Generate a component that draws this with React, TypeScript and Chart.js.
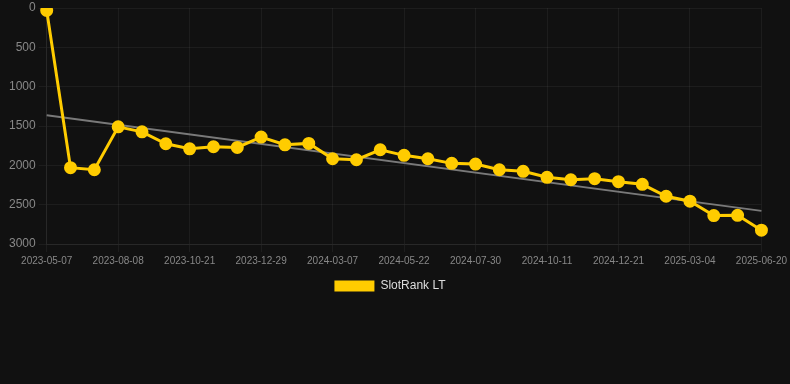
import React, { useEffect, useRef } from "react";
import { Chart, registerables } from "chart.js";

Chart.register(...registerables);

const dates = [
  "2023-05-07", "2023-06-07", "2023-07-08", "2023-08-08", "2023-09-01", "2023-09-26",
  "2023-10-21", "2023-11-13", "2023-12-06", "2023-12-29", "2024-01-21", "2024-02-13",
  "2024-03-07", "2024-04-01", "2024-04-26", "2024-05-22", "2024-06-14", "2024-07-07",
  "2024-07-30", "2024-08-23", "2024-09-17", "2024-10-11", "2024-11-03", "2024-11-27",
  "2024-12-21", "2025-01-21", "2025-02-11", "2025-03-04", "2025-04-10", "2025-05-15",
  "2025-06-20",
];

const rankValues = [
  32, 2030, 2056, 1511, 1574, 1726, 1790, 1764, 1772, 1641, 1739, 1721, 1916, 1929,
  1802, 1873, 1916, 1975, 1984, 2056, 2076, 2152, 2183, 2170, 2208, 2241, 2393, 2456,
  2639, 2635, 2824,
];

const trendStart = 1362;
const trendEnd = 2579;

const yTicks = [0, 500, 1000, 1500, 2000, 2500, 3000];

const legendShift = {
  id: "legendShift",
  afterLayout(chart: any) {
    if (chart.legend) {
      chart.legend.left -= 7;
      chart.legend.right -= 7;
    }
  },
};

export default function App() {
  const ref = useRef<HTMLCanvasElement | null>(null);

  useEffect(() => {
    document.body.style.margin = "0";
    document.body.style.background = "#111111";
    const trend = dates.map((_, i) => (i === 0 ? trendStart : i === dates.length - 1 ? trendEnd : null));
    const chart = new Chart(ref.current!, {
      type: "line",
      data: {
        labels: dates,
        datasets: [
          {
            label: "SlotRank LT",
            data: rankValues,
            borderColor: "#ffcc00",
            backgroundColor: "#ffcc00",
            borderWidth: 3,
            pointRadius: 5,
            pointHoverRadius: 5,
            pointBackgroundColor: "#ffcc00",
            pointBorderColor: "#ffcc00",
            tension: 0,
            order: 1,
          },
          {
            label: "trend",
            data: trend,
            borderColor: "rgba(140,140,140,0.85)",
            borderWidth: 2,
            pointRadius: 0,
            spanGaps: true,
            fill: false,
            order: 2,
          },
        ],
      },
      plugins: [legendShift],
      options: {
        animation: false,
        responsive: false,
        maintainAspectRatio: false,
        layout: { padding: { left: 6, right: 2, top: 0, bottom: 0 } },
        plugins: {
          legend: {
            position: "bottom",
            labels: {
              color: "#dddddd",
              font: { family: "Liberation Sans, Arial, sans-serif", size: 12 },
              boxWidth: 40,
              boxHeight: 11,
              filter: (item) => item.text !== "trend",
              generateLabels: (c) =>
                Chart.defaults.plugins.legend.labels.generateLabels(c).map((l) => ({
                  ...l,
                  lineWidth: 0,
                  fillStyle: "#ffcc00",
                })),
            },
          },
          tooltip: { enabled: false },
        },
        scales: {
          x: {
            grid: { color: "rgba(255,255,255,0.05)" },
            border: { color: "rgba(255,255,255,0.05)" },
            ticks: {
              color: "#888888",
              font: { family: "Liberation Sans, Arial, sans-serif", size: 10 },
              autoSkip: true,
              maxTicksLimit: 11,
              maxRotation: 0,
              minRotation: 0,
            },
          },
          y: {
            reverse: true,
            min: yTicks[0],
            max: yTicks[yTicks.length - 1],
            grid: { color: "rgba(255,255,255,0.05)" },
            border: { color: "rgba(255,255,255,0.05)" },
            afterBuildTicks: (axis) => {
              axis.ticks = yTicks.map((v) => ({ value: v }));
            },
            ticks: {
              color: "#888888",
              font: { family: "Liberation Sans, Arial, sans-serif", size: 12, lineHeight: 0.75 },
              callback: (v) => String(v),
            },
          },
        },
      },
    });
    return () => chart.destroy();
  }, []);

  return (
    <div style={{ position: "absolute", left: 0, top: 0, width: 790, height: 384, background: "#111111" }}>
      <canvas ref={ref} width={790} height={302} style={{ display: "block" }} />
    </div>
  );
}
